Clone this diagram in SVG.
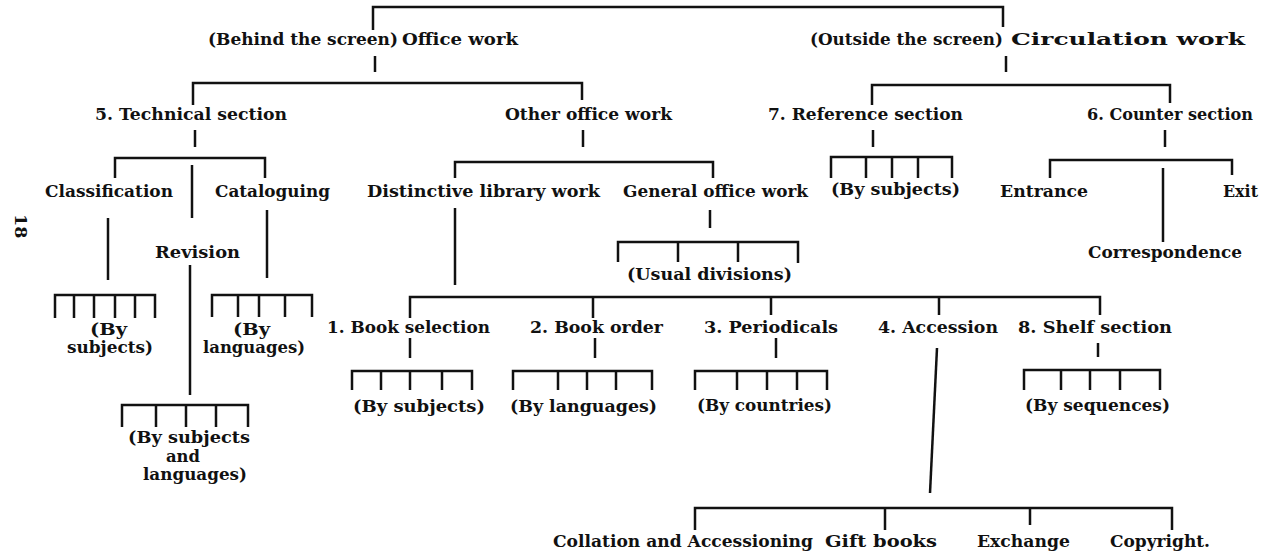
<svg xmlns="http://www.w3.org/2000/svg" width="1265" height="553" viewBox="0 0 1265 553">
<style>
.t{font-family:"DejaVu Serif","Liberation Serif",serif;font-weight:bold;font-size:17.5px;fill:#111}
.c{fill:none;stroke:#111;stroke-width:2.5}
</style>
<rect width="1265" height="553" fill="#fff"/>
<g id="connectors" class="c">
<path d="M373,30 V7 H1003 V27"/>
<path d="M375,56 V72"/>
<path d="M1006,56 V72"/>
<path d="M193,105 V83 H582 V100"/>
<path d="M872,105 V85 H1170 V103"/>
<path d="M195,130 V147"/>
<path d="M115,178 V158 H265 V178"/>
<path d="M192,165 V218"/>
<path d="M190,265 V395"/>
<path d="M108,218 V280"/>
<path d="M55,318 V295 H155 V318 M74,295 V318 M94,295 V318 M115,295 V318 M135,295 V318"/>
<path d="M267,210 V278"/>
<path d="M212,317 V295 H312 V317 M238,295 V317 M259,295 V317 M285,295 V317"/>
<path d="M122,427 V405 H248 V427 M156,405 V427 M186,405 V427 M216,405 V427"/>
<path d="M583,130 V147"/>
<path d="M455,178 V162 H713 V178"/>
<path d="M873,130 V147"/>
<path d="M831,178 V157 H952 V178 M866,157 V178 M892,157 V178 M918,157 V178"/>
<path d="M1165,130 V147"/>
<path d="M1050,178 V160 H1232 V175"/>
<path d="M1163,168 V242"/>
<path d="M455,208 V285"/>
<path d="M710,210 V228"/>
<path d="M618,262 V242 H798 V263 M678,242 V262 M738,242 V262"/>
<path d="M410,318 V297 H1100 V315 M593,297 V318 M771,297 V315 M939,297 V315"/>
<path d="M410,338 V358"/>
<path d="M352,390 V371 H472 V390 M381,371 V390 M410,371 V390 M442,371 V390"/>
<path d="M595,338 V358"/>
<path d="M513,390 V371 H652 V390 M558,371 V390 M587,371 V390 M616,371 V390"/>
<path d="M776,338 V358"/>
<path d="M695,390 V371 H827 V390 M737,371 V390 M767,371 V390 M797,371 V390"/>
<path d="M937,348 L930,493"/>
<path d="M695,530 V508 H1172 V530 M885,508 V530 M1030,508 V525"/>
<path d="M1098,343 V357"/>
<path d="M1024,390 V370 H1160 V390 M1061,370 V390 M1090,370 V390 M1120,370 V390"/>
</g>
<g id="page-number"><text class="t" transform="translate(15,214) rotate(90)" font-size="22">18</text></g>
<g id="n-office"><text class="t" x="208" y="45" textLength="190" lengthAdjust="spacingAndGlyphs">(Behind the screen)</text><text class="t" x="402" y="45" textLength="116" lengthAdjust="spacingAndGlyphs">Office work</text></g>
<g id="n-circulation"><text class="t" x="810" y="45" textLength="193" lengthAdjust="spacingAndGlyphs">(Outside the screen)</text><text class="t" x="1011" y="45" font-size="18.5" textLength="234" lengthAdjust="spacingAndGlyphs">Circulation work</text></g>
<g id="n-technical"><text class="t" x="95" y="120" textLength="192" lengthAdjust="spacingAndGlyphs">5. Technical section</text></g>
<g id="n-other"><text class="t" x="505" y="120" textLength="167" lengthAdjust="spacingAndGlyphs">Other office work</text></g>
<g id="n-reference"><text class="t" x="768" y="120" textLength="195" lengthAdjust="spacingAndGlyphs">7. Reference section</text></g>
<g id="n-counter"><text class="t" x="1087" y="120" textLength="166" lengthAdjust="spacingAndGlyphs"><tspan>6. Counter</tspan> <tspan>section</tspan></text></g>
<g id="n-classification"><text class="t" x="45" y="197" textLength="128" lengthAdjust="spacingAndGlyphs">Classification</text></g>
<g id="n-cataloguing"><text class="t" x="215" y="197" textLength="115" lengthAdjust="spacingAndGlyphs">Cataloguing</text></g>
<g id="n-revision"><text class="t" x="155" y="258" textLength="85" lengthAdjust="spacingAndGlyphs">Revision</text></g>
<g id="n-distinctive"><text class="t" x="367" y="197" textLength="233" lengthAdjust="spacingAndGlyphs">Distinctive library work</text></g>
<g id="n-general"><text class="t" x="623" y="197" textLength="185" lengthAdjust="spacingAndGlyphs">General office work</text></g>
<g id="n-ref-subjects"><text class="t" x="831" y="195" textLength="129" lengthAdjust="spacingAndGlyphs">(By subjects)</text></g>
<g id="n-entrance"><text class="t" x="1000" y="197" textLength="88" lengthAdjust="spacingAndGlyphs">Entrance</text></g>
<g id="n-exit"><text class="t" x="1223" y="197" textLength="35" lengthAdjust="spacingAndGlyphs">Exit</text></g>
<g id="n-correspondence"><text class="t" x="1088" y="258" textLength="154" lengthAdjust="spacingAndGlyphs">Correspondence</text></g>
<g id="n-class-subjects"><text class="t" x="90" y="335" textLength="37" lengthAdjust="spacingAndGlyphs">(By</text><text class="t" x="67" y="353" textLength="86" lengthAdjust="spacingAndGlyphs">subjects)</text></g>
<g id="n-cat-languages"><text class="t" x="233" y="335" textLength="37" lengthAdjust="spacingAndGlyphs">(By</text><text class="t" x="203" y="353" textLength="102" lengthAdjust="spacingAndGlyphs">languages)</text></g>
<g id="n-rev-subjects"><text class="t" x="128" y="443" textLength="122" lengthAdjust="spacingAndGlyphs">(By subjects</text><text class="t" x="166" y="462" textLength="34" lengthAdjust="spacingAndGlyphs">and</text><text class="t" x="143" y="480" textLength="104" lengthAdjust="spacingAndGlyphs">languages)</text></g>
<g id="n-usual"><text class="t" x="627" y="280" textLength="165" lengthAdjust="spacingAndGlyphs">(Usual divisions)</text></g>
<g id="n-book-selection"><text class="t" x="327" y="333" textLength="163" lengthAdjust="spacingAndGlyphs">1. Book selection</text></g>
<g id="n-book-order"><text class="t" x="530" y="333" textLength="133" lengthAdjust="spacingAndGlyphs">2. Book order</text></g>
<g id="n-periodicals"><text class="t" x="704" y="333" textLength="134" lengthAdjust="spacingAndGlyphs">3. Periodicals</text></g>
<g id="n-accession"><text class="t" x="878" y="333" textLength="120" lengthAdjust="spacingAndGlyphs">4. Accession</text></g>
<g id="n-shelf"><text class="t" x="1018" y="333" textLength="154" lengthAdjust="spacingAndGlyphs">8. Shelf section</text></g>
<g id="n-sel-subjects"><text class="t" x="353" y="412" textLength="132" lengthAdjust="spacingAndGlyphs">(By subjects)</text></g>
<g id="n-ord-languages"><text class="t" x="510" y="412" textLength="147" lengthAdjust="spacingAndGlyphs">(By languages)</text></g>
<g id="n-per-countries"><text class="t" x="697" y="411" textLength="135" lengthAdjust="spacingAndGlyphs">(By countries)</text></g>
<g id="n-shelf-sequences"><text class="t" x="1025" y="411" textLength="145" lengthAdjust="spacingAndGlyphs">(By sequences)</text></g>
<g id="n-collation"><text class="t" x="553" y="547" textLength="260" lengthAdjust="spacingAndGlyphs">Collation and Accessioning</text></g>
<g id="n-gift"><text class="t" x="825" y="547" textLength="112" lengthAdjust="spacingAndGlyphs">Gift books</text></g>
<g id="n-exchange"><text class="t" x="977" y="547" textLength="93" lengthAdjust="spacingAndGlyphs">Exchange</text></g>
<g id="n-copyright"><text class="t" x="1110" y="547" textLength="100" lengthAdjust="spacingAndGlyphs">Copyright.</text></g>
</svg>
